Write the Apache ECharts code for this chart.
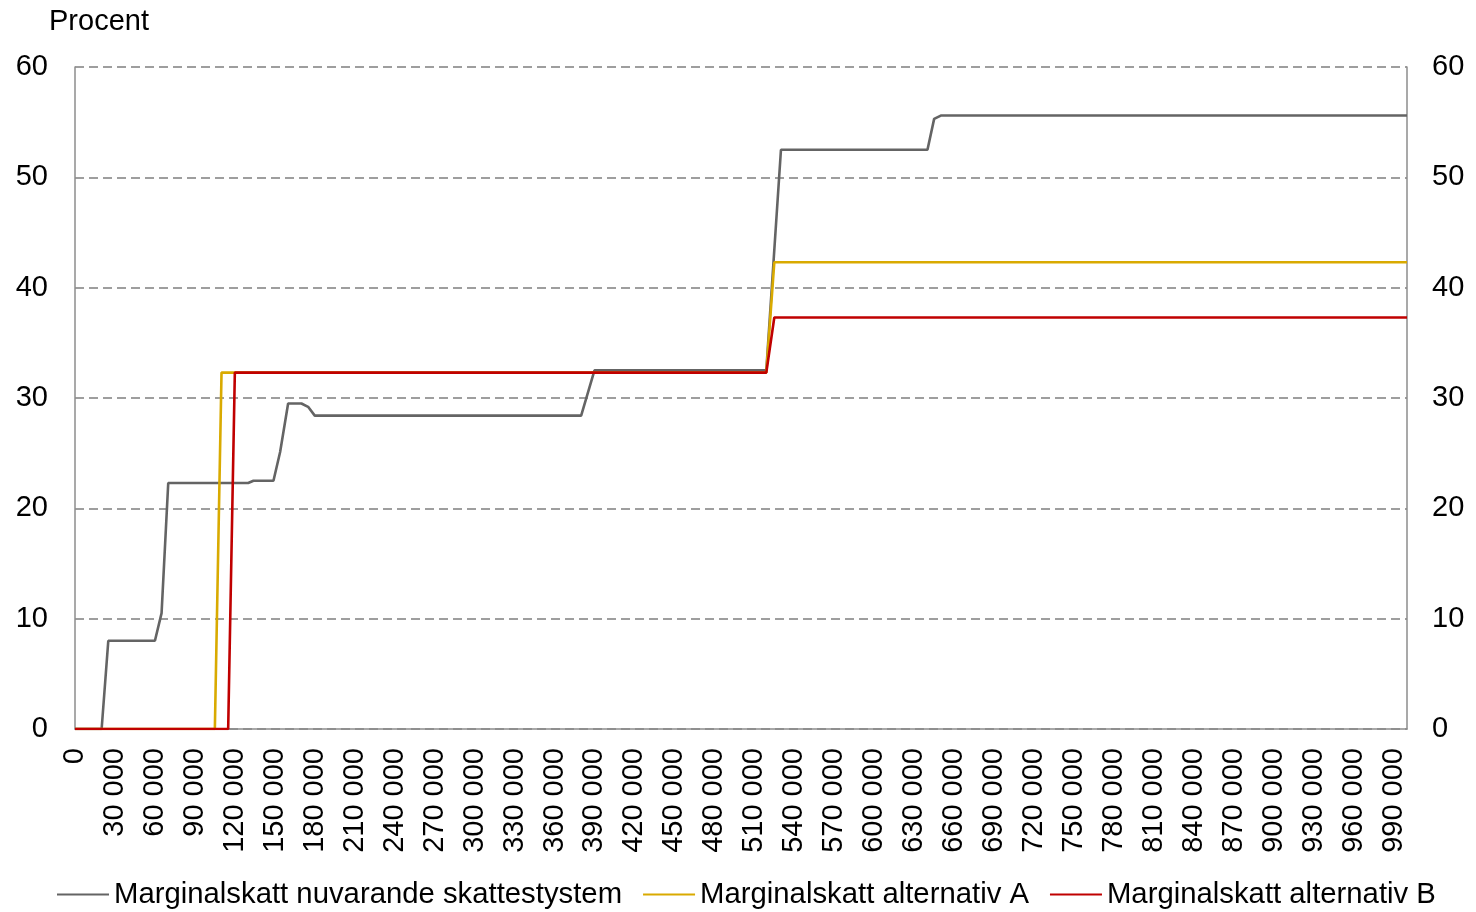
<!DOCTYPE html>
<html>
<head>
<meta charset="utf-8">
<script src="https://cdn.jsdelivr.net/npm/echarts@6/dist/echarts.min.js"></script>
<style>
  html, body { margin: 0; padding: 0; background: #fff; }
  #main { width: 1476px; height: 912px; }
</style>
</head>
<body>
<div id="main"></div>
<script>
// inkomst (kr), marginalskatt (procent)
const nuvarande = [
  [0, 0], [20000, 0], [25000, 8], [60000, 8], [65000, 10.5], [70000, 22.3],
  [130000, 22.3], [134000, 22.5], [149000, 22.5], [154000, 25.1], [160000, 29.5],
  [170000, 29.5], [175000, 29.2], [180000, 28.4], [380000, 28.4], [390000, 32.5],
  [519000, 32.5], [530000, 52.5], [640000, 52.5], [645000, 55.3], [650000, 55.6],
  [1000000, 55.6]
];
const alternativA = [
  [0, 0], [105000, 0], [110000, 32.3], [519000, 32.3], [525000, 42.3], [1000000, 42.3]
];
const alternativB = [
  [0, 0], [115000, 0], [120000, 32.3], [519000, 32.3], [525000, 37.3], [1000000, 37.3]
];
const seriesNames = [
  'Marginalskatt nuvarande skattestystem',
  'Marginalskatt alternativ A',
  'Marginalskatt alternativ B'
];
const colors = ['#646464', '#D9AA00', '#C00000'];

const font = 'Liberation Sans, Arial, sans-serif';
const fs = 29;
const fmt = v => String(v).replace(/\B(?=(\d{3})+(?!\d))/g, ' ');

const chart = echarts.init(document.getElementById('main'));

const yAxisBase = {
  type: 'value',
  min: 0,
  max: 60,
  interval: 10,
  axisTick: {show: false},
  axisLine: {show: true, lineStyle: {color: '#8c8c8c', width: 1.5}},
  axisLabel: {color: '#000', fontSize: fs, fontFamily: font}
};

chart.setOption({
  animation: false,
  color: colors,
  title: {
    text: 'Procent',
    left: 44,
    top: 2,
    textStyle: {color: '#000', fontSize: fs, fontWeight: 'normal', fontFamily: font}
  },
  grid: {left: 75, right: 69, top: 67, bottom: 183, containLabel: false},
  legend: {
    bottom: -2,
    left: 52,
    itemWidth: 52,
    itemHeight: 2,
    itemGap: 21,
    icon: 'rect',
    textStyle: {color: '#000', fontSize: 29.3, fontFamily: font, padding: [0, 0, 0, 0]},
    data: seriesNames
  },
  xAxis: {
    type: 'value',
    min: 0,
    max: 1000000,
    interval: 30000,
    splitLine: {show: false},
    axisTick: {show: false},
    axisLine: {lineStyle: {color: '#8c8c8c', width: 1.5}},
    axisLabel: {
      rotate: 90,
      margin: 19,
      showMaxLabel: false,
      color: '#000',
      fontSize: fs,
      fontFamily: font,
      formatter: fmt
    }
  },
  yAxis: [
    Object.assign({}, yAxisBase, {
      position: 'left',
      axisLabel: Object.assign({}, yAxisBase.axisLabel, {margin: 27}),
      splitLine: {show: true, lineStyle: {color: '#7f7f7f', width: 1.5, type: [9, 5]}}
    }),
    Object.assign({}, yAxisBase, {
      position: 'right',
      axisLabel: Object.assign({}, yAxisBase.axisLabel, {margin: 25}),
      splitLine: {show: false}
    })
  ],
  series: [
    {name: seriesNames[0], type: 'line', data: nuvarande, showSymbol: false, lineStyle: {width: 2.6}},
    {name: seriesNames[1], type: 'line', data: alternativA, showSymbol: false, lineStyle: {width: 2.6}},
    {name: seriesNames[2], type: 'line', data: alternativB, showSymbol: false, lineStyle: {width: 2.6}}
  ]
});
</script>
</body>
</html>
